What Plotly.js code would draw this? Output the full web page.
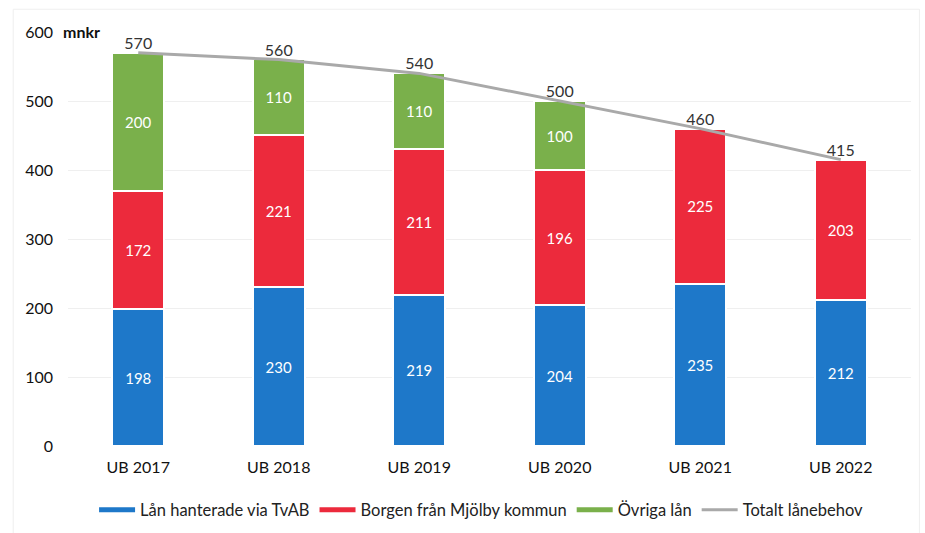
<!DOCTYPE html>
<html><head><meta charset="utf-8">
<script src="https://cdn.plot.ly/plotly-3.0.1.min.js"></script>
<style>html,body{margin:0;padding:0;background:#fff}#chart{width:925px;height:533px}</style>
</head><body><div id="chart"></div>
<script>
const categories = ["UB 2017","UB 2018","UB 2019","UB 2020","UB 2021","UB 2022"];
const lanTvAB = [198,230,219,204,235,212];
const borgen = [172,221,211,196,225,203];
const ovriga = [200,110,110,100,null,null];
const totalt = [570,560,540,500,460,415];
const yTicks = [0,100,200,300,400,500,600];
const seriesNames = ['Lån hanterade via TvAB','Borgen från Mjölby kommun','Övriga lån','Totalt lånebehov'];
const colors = ['#1E78C9','#EC2A3C','#7AB04B','#A9A9A9'];

const font = "Lato, 'Open Sans', sans-serif";
const segLine = {color:'#ffffff', width:2};
const lblFont = {color:'#ffffff', size:15, family:font};
const barSeries = [lanTvAB, borgen, ovriga];
const traces = barSeries.map((vals,i)=>({
  type:'bar', name:seriesNames[i], x:categories, y:vals, showlegend:false,
  marker:{color:colors[i], line:segLine}, text:vals.map(v=>v==null?'':String(v)),
  textposition:'inside', insidetextanchor:'middle', textfont:lblFont, constraintext:'none'}));
traces.push({type:'scatter', mode:'lines+text', name:seriesNames[3], x:categories, y:totalt,
   showlegend:false, line:{color:colors[3], width:3}, text:totalt.map(String), textposition:'top center',
   textfont:{color:'#333333', size:16, family:font}});
// legend entries (line-style keys as in the original)
seriesNames.forEach((n,i)=>traces.push({type:'scatter', mode:'lines', name:n, x:[null], y:[null],
   line:{color:colors[i], width:i===3?3:5}, showlegend:true, hoverinfo:'skip'}));

const layout = {
  width:925, height:533,
  margin:{l:68, r:14, t:32, b:87},
  barmode:'stack', bargap:0.63,
  paper_bgcolor:'#ffffff', plot_bgcolor:'#ffffff',
  font:{family:font, color:'#222222', size:16},
  xaxis:{type:'category', tickfont:{size:16, color:'#111111'}, showline:false, showgrid:false,
         ticks:'', ticklen:0, ticklabelstandoff:10},
  yaxis:{range:[0,600], tickvals:yTicks, ticktext:yTicks.map(String), showgrid:true,
         gridcolor:'#efefef', gridwidth:1, zeroline:false, showline:false,
         tickfont:{size:16, color:'#111111'}, ticklabelstandoff:14},
  showlegend:true,
  legend:{orientation:'h', x:0.49, xanchor:'center', yref:'container', y:0.043, yanchor:'middle',
          font:{size:16.5, color:'#222222'}, traceorder:'normal', itemwidth:36},
  annotations:[{xref:'paper', yref:'paper', x:-0.008, y:1.0, xanchor:'left', yanchor:'bottom',
    text:'<b>mnkr</b>', showarrow:false, font:{size:16, color:'#111111'}, yshift:-11}],
  shapes:[{type:'rect', xref:'paper', yref:'paper', x0:-0.065, x1:1.01, y0:-0.24, y1:1.055,
    line:{color:'#efefef', width:1}, layer:'below'}]
};
Plotly.newPlot('chart', traces, layout, {displayModeBar:false, staticPlot:true});
</script></body></html>
